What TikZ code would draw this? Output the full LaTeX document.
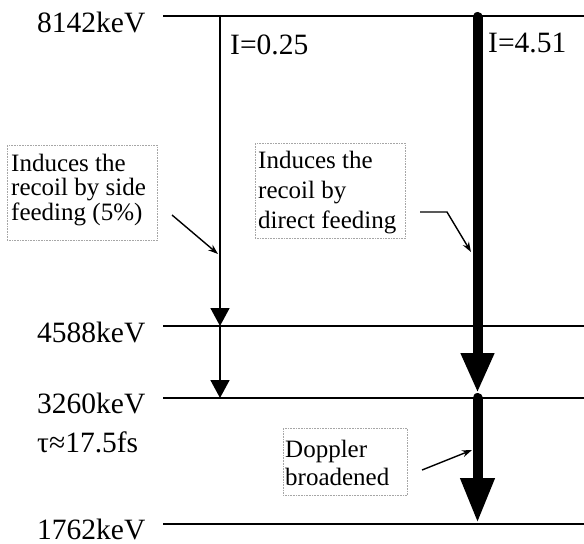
\documentclass[tikz,border=0pt]{standalone}
\usepackage{fontspec}
\setmainfont{Liberation Serif}
\usetikzlibrary{arrows.meta}
\begin{document}
\begin{tikzpicture}[x=1bp,y=-1bp,
  lvl/.style={line width=1.7bp},
  lbl/.style={anchor=base west,inner sep=0pt,font=\fontsize{29.5bp}{35bp}\selectfont},
  frame/.style={draw=gray!70,densely dotted,line width=0.6bp,anchor=north west,inner sep=0pt},
  note/.style={anchor=north west,inner sep=0pt,align=left},
  thinarrow/.style={line width=1.7bp,-{Triangle[length=18bp,width=19bp]}},
  thickarrow/.style={line width=10bp,line cap=round},
  ptr/.style={line width=1.4bp,-{Stealth[length=10bp,width=7bp]}}
]
\useasboundingbox (0,0) rectangle (584,544);

% level labels
\node[lbl] (e8142) at (37,33) {8142keV};
\node[lbl] (e4588) at (37,342) {4588keV};
\node[lbl] (e3260) at (37,413) {3260keV};
\node[lbl] (tau) at (37,452) {τ≈17.5fs};
\node[lbl] (e1762) at (37,539) {1762keV};
\node[lbl] (i1) at (230,55) {I=0.25};
\node[lbl] (i2) at (488,53) {I=4.51};

% level lines
\coordinate (L1a) at (163,16);  \coordinate (L1b) at (584,16);
\coordinate (L2a) at (163,326); \coordinate (L2b) at (584,326);
\coordinate (L3a) at (163,398); \coordinate (L3b) at (584,398);
\coordinate (L4a) at (163,524); \coordinate (L4b) at (584,524);
\draw[lvl] (L1a) -- (L1b);
\draw[lvl] (L2a) -- (L2b);
\draw[lvl] (L3a) -- (L3b);
\draw[lvl] (L4a) -- (L4b);

% weak side-feeding cascade
\coordinate (s0) at (220,16);
\coordinate (s1) at (220,326);
\coordinate (s2) at (220,398);
\draw[thinarrow] (s0) -- (s1);
\draw[thinarrow] (s1) -- (s2);

% strong direct feeding
\coordinate (d0) at (477.5,17);
\coordinate (d1) at (477.5,393);
\coordinate (d2) at (477.5,398);
\coordinate (d3) at (477.5,523);
\draw[thickarrow,-{Triangle[length=40bp,width=31bp]}] (d0) -- (d1);
\draw[thickarrow,-{Triangle[length=45bp,width=32bp]}] (d2) -- (d3);

% annotation boxes
\node[frame,minimum width=150bp,minimum height=95bp] (b1) at (7,145) {};
\node[note,font=\fontsize{25bp}{24.5bp}\selectfont] (t1) at (11,153.9) {Induces the\\recoil by side\\feeding (5\%)};
\node[frame,minimum width=150bp,minimum height=95bp] (b2) at (255,143) {};
\node[note,font=\fontsize{25bp}{30bp}\selectfont] (t2) at (258,151) {Induces the\\recoil by\\direct feeding};
\node[frame,minimum width=124bp,minimum height=67bp] (b3) at (283,428) {};
\node[note,font=\fontsize{25bp}{28bp}\selectfont] (t3) at (285,440) {Doppler\\broadened};

% pointers
\coordinate (p1s) at (172,215); \coordinate (p1e) at (218,254);
\draw[ptr] (p1s) -- (p1e);
\coordinate (p2s) at (420,212); \coordinate (p2b) at (447,212); \coordinate (p2e) at (471,252);
\draw[ptr] (p2s) -- (p2b) -- (p2e);
\coordinate (p3s) at (422,470); \coordinate (p3e) at (472,450);
\draw[ptr] (p3s) -- (p3e);
\end{tikzpicture}
\end{document}
